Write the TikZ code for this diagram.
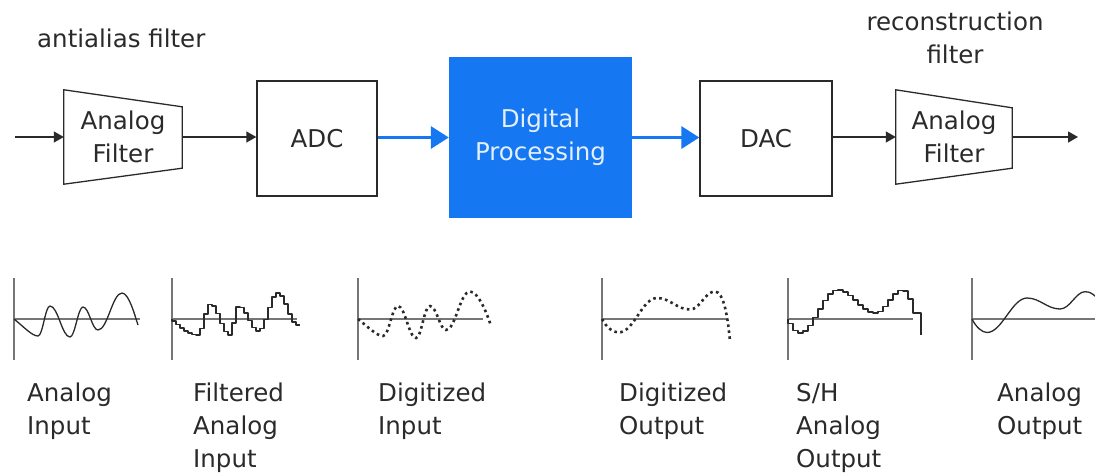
\documentclass[tikz,border=0pt]{standalone}
\usepackage{fontspec}
\setmainfont{DejaVu Sans}
\usetikzlibrary{arrows.meta,calc}
\definecolor{dspblue}{HTML}{1677F2}
\definecolor{ink}{HTML}{2A2A2A}
\definecolor{axisgray}{HTML}{767676}

\begin{document}
\begin{tikzpicture}[x=1pt,y=-1pt,
  lbl/.style={font=\fontsize{24.5}{33}\selectfont, text=ink, align=center, inner sep=0pt},
  caption/.style={lbl, align=left, anchor=base west},
  block/.style={lbl, draw=ink, line width=1.3pt, fill=white},
  dspbox/.style={lbl, fill=dspblue, text=white!88!dspblue},
  filterbox/.style={lbl, minimum height=94pt},
  sig/.style={draw=ink, line width=1.3pt, -{Triangle[length=10pt,width=11pt]}},
  dsig/.style={draw=dspblue, line width=3.4pt, -{Triangle[length=18pt,width=22pt]}},
  trap/.style={draw=ink, line width=1.3pt},
  vaxis/.style={draw=axisgray, line width=2pt},
  haxis/.style={draw=axisgray, line width=1.6pt},
  wave/.style={draw=ink, line width=1.3pt, line join=round},
  dots/.style={draw=ink, line width=2.6pt, dash pattern=on 2.6pt off 3.4pt},
]
\useasboundingbox (0,0) rectangle (1095,474);

% ---------------- signal chain ----------------
\coordinate (in) at (15,137);
\coordinate (out) at (1078,137);

\node[filterbox, minimum width=118pt] (f1) at (123,137) {Analog\\Filter};
\node[block, minimum width=120pt, minimum height=115pt] (adc) at (317,138.5) {ADC};
\node[dspbox, minimum width=183pt, minimum height=161pt] (dsp) at (540.5,137.5) {Digital\\Processing};
\node[block, minimum width=132pt, minimum height=115pt] (dac) at (766,138.5) {DAC};
\node[filterbox, minimum width=116pt] (f2) at (954,137) {Analog\\Filter};

% trapezoid outlines of the two analog filters
\draw[trap] (f1.north west) -- ($(f1.north east)+(0,17)$) -- ($(f1.south east)+(0,-16)$) -- (f1.south west) -- cycle;
\draw[trap] (f2.north west) -- ($(f2.north east)+(0,18)$) -- ($(f2.south east)+(0,-16)$) -- (f2.south west) -- cycle;

\draw[sig] (in) -- (f1.west);
\draw[sig] (f1.east) -- (adc.west |- f1.east);
\draw[dsig] (adc.east |- dsp.west) -- (dsp.west);
\draw[dsig] (dsp.east) -- (dac.west |- dsp.east);
\draw[sig] (dac.east |- f2.west) -- (f2.west);
\draw[sig] (f2.east) -- (out);

\node[lbl, anchor=base west] (aa) at (37,47) {antialias filter};
\node[lbl, anchor=base] (rf) at (955,63) {reconstruction\\filter};

% ---------------- waveforms ----------------
% analog input
\begin{scope}[shift={(14,319)},yscale=-1]
  \draw[vaxis] (0,41) -- (0,-41);
  \draw[haxis] (0,0) -- (126,0);
  \draw[wave] (0,0) .. controls (10,-8) and (18,-17) .. (24,-17)
    .. controls (28.8,-17) and (31.2,13) .. (36,13)
    .. controls (44,13) and (48,-18) .. (56,-18)
    .. controls (61,-18) and (64,12) .. (69,12)
    .. controls (75,12) and (78,-11) .. (84,-11)
    .. controls (93.6,-11) and (98.4,26) .. (108,26)
    .. controls (115,26) and (121,3) .. (124,-6);
\end{scope}

% filtered analog input (staircase)
\begin{scope}[shift={(172,319)},yscale=-1]
  \draw[vaxis] (0,41) -- (0,-41);
  \draw[haxis] (0,0) -- (125,0);
  \draw[wave] (0,0) foreach \v [count=\i from 0] in
    {-2,-5.5,-9,-12,-14,-15.5,-16,-9.5,5,14.5,13,5.5,-4.5,-12.5,-16,-4,
     12,11.5,6,-1.5,-8.5,-12,-9.5,-0.5,11.5,22,26,23,15,5,-3,-6}
    { -- (4*\i,\v) -- (4*\i+4,\v) };
\end{scope}

% digitized input (dotted)
\begin{scope}[shift={(358,319)},yscale=-1]
  \draw[vaxis] (0,41) -- (0,-41);
  \draw[haxis] (0,0) -- (125,0);
  \draw[dots] (0,0) .. controls (10,-8) and (19,-17) .. (25,-17)
    .. controls (31,-17) and (34,13) .. (40,13)
    .. controls (47,13) and (51,-19) .. (58,-19)
    .. controls (63.5,-19) and (66,13) .. (72,13)
    .. controls (78.5,13) and (82,-11) .. (88,-11)
    .. controls (97.5,-11) and (102,27.5) .. (112,27.5)
    .. controls (120,27.5) and (129,6) .. (133,-7);
\end{scope}

% digitized output (dotted)
\begin{scope}[shift={(602,319)},yscale=-1]
  \draw[vaxis] (0,41) -- (0,-41);
  \draw[haxis] (0,0) -- (126,0);
  \draw[dots] (0,0) .. controls (4,-8) and (11,-13.5) .. (16.5,-13.5)
    .. controls (32,-13.5) and (40,21) .. (55,21)
    .. controls (68,21) and (75,9.5) .. (88,9.5)
    .. controls (98,9.5) and (103,27.5) .. (113,27.5)
    .. controls (122,27.5) and (126,0) .. (128,-22.5);
\end{scope}

% sample-and-hold output (staircase)
\begin{scope}[shift={(788,319)},yscale=-1]
  \draw[vaxis] (0,41) -- (0,-41);
  \draw[haxis] (0,0) -- (125,0);
  \draw[wave] (0,0) foreach \v [count=\i from 0] in
    {-4.5,-11.5,-14,-12,-6.5,1.5,10,18.5,25,28.5,29,27,23.5,19,14,10,7,6,
     7.5,12.5,19,25,28.5,28,20}
    { -- (5*\i,\v) -- (5*\i+5,\v) } -- (125,6) -- (133,6) -- (133,-16);
\end{scope}

% analog output
\begin{scope}[shift={(972,319)},yscale=-1]
  \draw[vaxis] (0,41) -- (0,-41);
  \draw[haxis] (0,0) -- (130,0);
  \draw[wave] (0,0) .. controls (4,-8) and (10,-13.5) .. (15,-13.5)
    .. controls (30,-13.5) and (40,21) .. (55,21)
    .. controls (68,21) and (75,10) .. (88,10)
    .. controls (98,10) and (104,27.3) .. (113,27.3)
    .. controls (118,27.3) and (121,25) .. (124,22);
\end{scope}

% ---------------- captions (anchored at the last line's baseline) ----------------
\node[caption] (c1) at (27,434.5) {Analog\\Input};
\node[caption] (c2) at (193,467) {Filtered\\Analog\\Input};
\node[caption] (c3) at (378,434.5) {Digitized\\Input};
\node[caption] (c4) at (619,434.5) {Digitized\\Output};
\node[caption] (c5) at (796,467) {S/H\\Analog\\Output};
\node[caption] (c6) at (997,434.5) {Analog\\Output};
\end{tikzpicture}
\end{document}
